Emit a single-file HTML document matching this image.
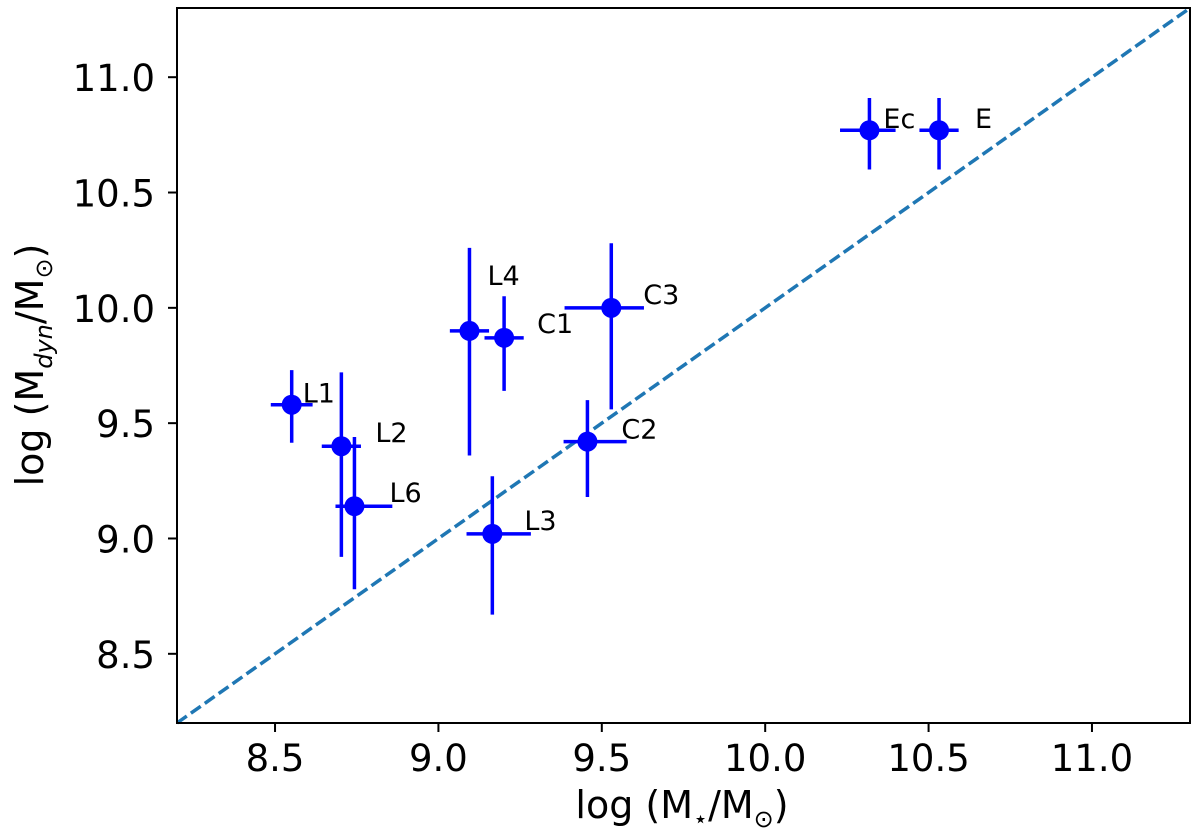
<!DOCTYPE html>
<html><head><meta charset="utf-8"><style>
html,body{margin:0;padding:0;background:#fff;}
svg{display:block;font-family:"DejaVu Sans","Liberation Sans",sans-serif;}
</style></head><body>
<svg id="chart" width="1200" height="840" viewBox="0 0 1200 840" xmlns="http://www.w3.org/2000/svg">
<g id="axes"></g>
<g id="marks"></g>
<rect x="177" y="8" width="1013" height="715" fill="none" stroke="#000" stroke-width="2"/>
<text x="682" y="818" font-size="38" text-anchor="middle">log (M<tspan font-size="24" dy="9">⋆</tspan><tspan dy="-9">/M</tspan><tspan font-size="24" dy="9">⊙</tspan><tspan dy="-9">)</tspan></text>
<text transform="translate(43,365) rotate(-90)" font-size="38" text-anchor="middle">log (M<tspan font-size="24" dy="9" font-style="italic">dyn</tspan><tspan dy="-9">/M</tspan><tspan font-size="24" dy="9">⊙</tspan><tspan dy="-9">)</tspan></text>
</svg>
<script>
const labels=["L1","L2","L6","L4","C1","C3","C2","L3","Ec","E"];
const xVals=[8.551,8.703,8.743,9.095,9.201,9.529,9.456,9.165,10.319,10.532];
const yVals=[9.58,9.40,9.14,9.90,9.87,10.00,9.42,9.02,10.77,10.77];
const xErrLo=[0.064,0.06,0.058,0.06,0.06,0.143,0.073,0.079,0.09,0.06];
const xErrHi=[0.064,0.06,0.116,0.06,0.06,0.10,0.12,0.118,0.08,0.06];
const yErrLo=[0.165,0.48,0.36,0.54,0.23,0.44,0.24,0.35,0.17,0.17];
const yErrHi=[0.15,0.32,0.30,0.36,0.18,0.28,0.18,0.25,0.14,0.14];
const xTicks=[8.5,9.0,9.5,10.0,10.5,11.0];
const yTicks=[8.5,9.0,9.5,10.0,10.5,11.0];
const lblDx=[11,34,35,18,33,32,34,32,14,36];
const lblDy=[-2,-4,-4,-46,-5,-4,-3,-4,-2,-2];
const X0=177,X1=1190,Y0=723,Y1=8,xmin=8.2,xmax=11.3,ymin=8.2,ymax=11.3;
const sx=v=>X0+(v-xmin)/(xmax-xmin)*(X1-X0);
const sy=v=>Y0-(v-ymin)/(ymax-ymin)*(Y0-Y1);
const NS="http://www.w3.org/2000/svg";
function mk(tag,attrs,parent){const e=document.createElementNS(NS,tag);for(const k in attrs)e.setAttribute(k,attrs[k]);parent.appendChild(e);return e;}
const ax=document.getElementById('axes'),mg=document.getElementById('marks');
xTicks.forEach(t=>{
 const l=mk('line',{x1:sx(t),x2:sx(t),y1:Y0,y2:Y0+9,stroke:'#000','stroke-width':2},ax);
 
 
 const tx=mk('text',{x:sx(t),y:Y0+48,'font-size':37,'text-anchor':'middle'},ax);
 tx.textContent=t.toFixed(1);
 
 
});
yTicks.forEach(t=>{
 const l=mk('line',{x1:X0-9,x2:X0,y1:sy(t),y2:sy(t),stroke:'#000','stroke-width':2},ax);
 
 
 const tx=mk('text',{x:X0-22,y:sy(t)+14,'font-size':37,'text-anchor':'end'},ax);
 tx.textContent=t.toFixed(1);
 
 
});
const d=mk('line',{x1:sx(xmin),y1:sy(xmin),x2:sx(xmax),y2:sy(xmax),stroke:'#1f77b4','stroke-width':3.5,'stroke-dasharray':'12,5'},mg);


labels.forEach((lab,i)=>{
 const g=mk('g',{},mg);
 
 
 const cx=sx(xVals[i]),cy=sy(yVals[i]);
 mk('line',{x1:sx(xVals[i]-xErrLo[i]),x2:sx(xVals[i]+xErrHi[i]),y1:cy,y2:cy,stroke:'#0000ff','stroke-width':3.5},g);
 mk('line',{x1:cx,x2:cx,y1:sy(yVals[i]-yErrLo[i]),y2:sy(yVals[i]+yErrHi[i]),stroke:'#0000ff','stroke-width':3.5},g);
 mk('circle',{cx:cx,cy:cy,r:10,fill:'#0000ff'},g);
 const t=mk('text',{x:cx+lblDx[i],y:cy+lblDy[i],'font-size':27},g);
 t.textContent=lab;
 
 
});
</script>
</body></html>
